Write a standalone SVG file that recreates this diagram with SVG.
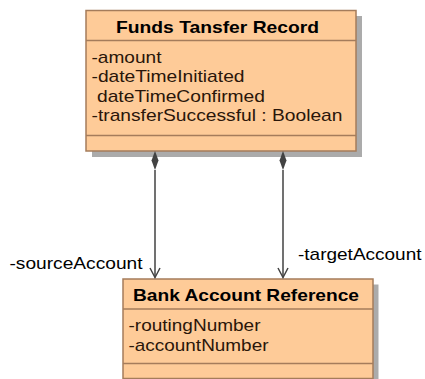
<svg xmlns="http://www.w3.org/2000/svg" width="425" height="379" viewBox="0 0 425 379">
<style>
.box{fill:#FECB98;stroke:#A57C5B;stroke-width:1.5}
.shadow{fill:#ABABAB}
.sep{stroke:#A57C5B;stroke-width:1.5}
.title{font-family:"Liberation Sans",Arial,sans-serif;font-size:17px;font-weight:bold;fill:#000}
.attr{font-family:"Liberation Sans",Arial,sans-serif;font-size:17px;fill:#2A160A}
.lbl{font-family:"Liberation Sans",Arial,sans-serif;font-size:17px;fill:#000}
.conn{stroke:#424242;stroke-width:1.5;fill:none}
.diamond{fill:#424242}
</style>
<rect width="425" height="379" fill="#fff"/>
<g id="funds-transfer-record">
<rect class="shadow" x="92" y="16" width="270" height="141"/>
<rect class="box" x="86" y="10.5" width="270" height="140.5"/>
<line class="sep" x1="86" y1="40.5" x2="356" y2="40.5"/>
<line class="sep" x1="86" y1="135.5" x2="356" y2="135.5"/>
<text class="title" x="116" y="33" textLength="203" lengthAdjust="spacingAndGlyphs">Funds Tansfer Record</text>
<text class="attr" x="91.5" y="62.5" textLength="70" lengthAdjust="spacingAndGlyphs">-amount</text>
<text class="attr" x="91.5" y="82" textLength="153" lengthAdjust="spacingAndGlyphs">-dateTimeInitiated</text>
<text class="attr" x="97" y="101.5" textLength="168" lengthAdjust="spacingAndGlyphs">dateTimeConfirmed</text>
<text class="attr" x="91.5" y="121" textLength="251" lengthAdjust="spacingAndGlyphs">-transferSuccessful : Boolean</text>
</g>
<g id="bank-account-reference">
<rect class="shadow" x="128.5" y="284.5" width="250" height="100"/>
<rect class="box" x="123" y="279" width="250" height="99.5"/>
<line class="sep" x1="123" y1="309" x2="373" y2="309"/>
<line class="sep" x1="123" y1="363.5" x2="373" y2="363.5"/>
<text class="title" x="133" y="301" textLength="226" lengthAdjust="spacingAndGlyphs">Bank Account Reference</text>
<text class="attr" x="128.5" y="331" textLength="132" lengthAdjust="spacingAndGlyphs">-routingNumber</text>
<text class="attr" x="128.5" y="350.5" textLength="140" lengthAdjust="spacingAndGlyphs">-accountNumber</text>
</g>
<g id="connectors">
<g id="source-account">
<line class="conn" x1="155" y1="170" x2="155" y2="277.5"/>
<polygon class="diamond" points="155,151 158.5,160.5 155,170 151.5,160.5"/>
<polyline class="conn" points="150,268 155,277.5 160,268"/>
<text class="lbl" x="9.5" y="269" textLength="133" lengthAdjust="spacingAndGlyphs">-sourceAccount</text>
</g>
<g id="target-account">
<line class="conn" x1="283" y1="170" x2="283" y2="277.5"/>
<polygon class="diamond" points="283,151 286.5,160.5 283,170 279.5,160.5"/>
<polyline class="conn" points="278,268 283,277.5 288,268"/>
<text class="lbl" x="298" y="260" textLength="123.5" lengthAdjust="spacingAndGlyphs">-targetAccount</text>
</g>
</g>
</svg>
